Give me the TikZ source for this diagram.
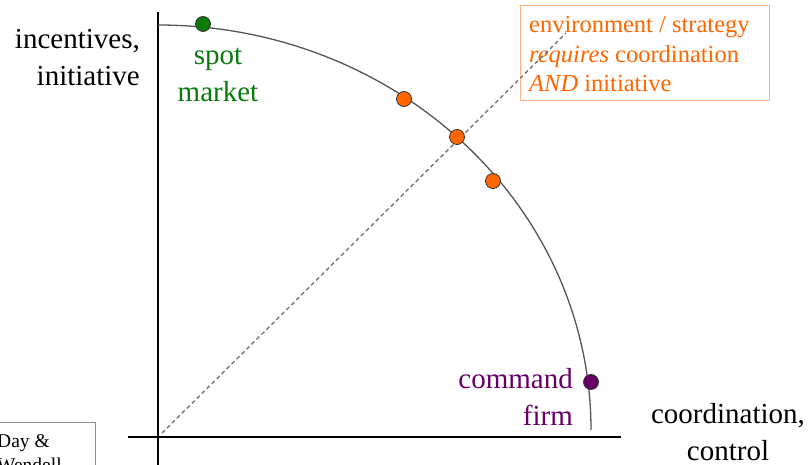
\documentclass[tikz,border=0pt]{standalone}
\usepackage{fontspec}
\setmainfont{Liberation Serif}
\definecolor{orng}{HTML}{FF6600}
\definecolor{orngbox}{HTML}{FFB27F}
\definecolor{grn}{HTML}{0A7A0A}
\definecolor{purp}{HTML}{660066}
\definecolor{crv}{HTML}{555555}
\tikzset{
  axis/.style={line width=2.5pt, black},
  frontier/.style={line width=1.3pt, crv},
  diag/.style={line width=1.4pt, crv!80, dash pattern=on 4pt off 3pt},
  dot/.style={circle, draw=black!80, line width=0.8pt, minimum size=15pt, inner sep=0pt},
  lbl/.style={inner sep=0pt, font=\fontsize{29}{37}\selectfont},
}
\begin{document}
\begin{tikzpicture}[x=1pt,y=-1pt]
\useasboundingbox (0,0) rectangle (811,465);
% citation box (cut off)
\node[draw=black!45, line width=0.8pt, minimum width=110pt, minimum height=60pt, anchor=north west, inner sep=0pt] (cite) at (-15,422) {};
\begin{scope}
\clip (0,0) rectangle (811,465);
\node[anchor=base west, inner sep=0pt, align=left, font=\fontsize{19.5}{24}\selectfont] (citetxt) at (-3,471) {Day \&\\Wendell};
\end{scope}
% axes
\coordinate (ytop) at (158,12);
\coordinate (ybot) at (158,465);
\coordinate (xl) at (128,437);
\coordinate (xr) at (621,437);
\coordinate (o) at (162,433);
\draw[axis] (ytop) -- (ybot);
\draw[axis] (xl) -- (xr);
% frontier: quarter ellipse centred (158,430)
\coordinate (fstart) at (158,25);
\draw[frontier] (fstart) arc[start angle=-90, end angle=0, x radius=433, y radius=405];
% strategy box
\node[draw=orngbox, line width=1pt, anchor=north west, minimum width=249pt, minimum height=95pt, inner sep=0pt] (box) at (520,5) {};
\node[anchor=base west, inner sep=0pt, align=left, text=orng, font=\fontsize{24.5}{29.5}\selectfont] (boxtxt) at (529,92) {environment / strategy\\\textit{requires} coordination\\\textit{AND} initiative};
% diagonal
\coordinate (dend) at (566,33);
\draw[diag] (o) -- (dend);
% dots
\node[dot, fill=grn] (spot) at (203,24) {};
\node[dot, fill=orng] (d1) at (404,99) {};
\node[dot, fill=orng] (d2) at (457,137) {};
\node[dot, fill=orng] (d3) at (493,181) {};
\node[dot, fill=purp] (cmd) at (591,382) {};
% labels
\node[lbl, anchor=base east, align=right] (ylab) at (140,86) {incentives,\\initiative};
\node[lbl, anchor=base, align=center, text=grn] (spotlab) at (218,102) {spot\\market};
\node[lbl, anchor=base east, align=right, text=purp] (cmdlab) at (573,425) {command\\firm};
\node[lbl, anchor=base, align=center] (xlab) at (728,460) {coordination,\\control};
\end{tikzpicture}
\end{document}
